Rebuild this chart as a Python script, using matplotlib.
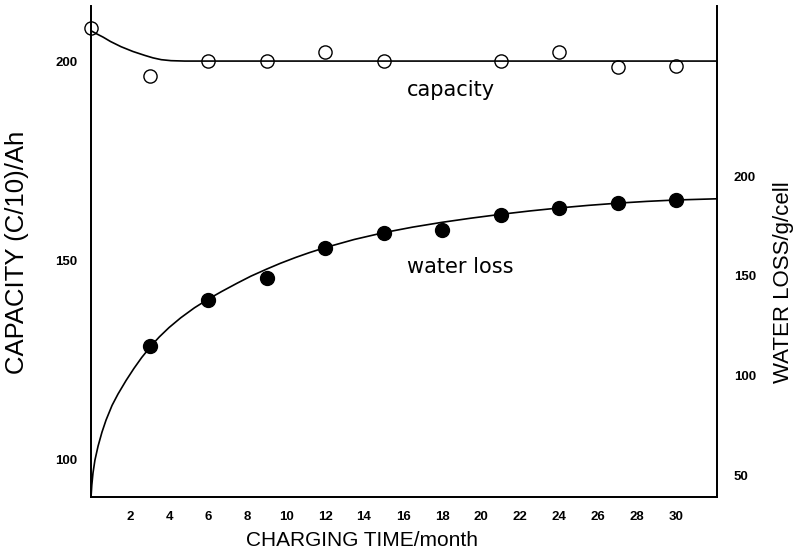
import matplotlib
matplotlib.use("Agg")
import matplotlib.pyplot as plt

# ---------------------
# DATA
# ---------------------
# capacity (C/10), open circles
cap_month = [0, 3, 6, 9, 12, 15, 21, 24, 27, 30]
cap_ah = [208.4, 196.3, 200.0, 200.0, 202.2, 200.0, 200.0, 202.3, 198.4, 198.7]
# hand drawn capacity curve
cap_curve_month = [0, 0.3, 0.62, 1.0, 1.54, 2.15, 2.77, 3.18, 3.6, 4.1, 4.8,
                   32.1]
cap_curve_ah = [207.6, 206.8, 206.0, 204.9, 203.6, 202.4, 201.4, 200.8,
                200.35, 200.1, 200.0, 200.0]

# water loss, filled circles
wl_month = [3, 6, 9, 12, 15, 18, 21, 24, 27, 30]
wl_g = [114.7, 137.8, 148.8, 163.9, 171.4, 172.9, 180.4, 183.9, 186.5, 188.0]
# hand drawn water loss curve
wl_curve_month = [0, 0.04, 0.1, 0.2, 0.36, 0.56, 0.77, 1.08, 1.38, 1.8, 2.2,
                  2.6, 3.08, 3.5, 4.0, 4.6, 5.3, 6.0, 6.7, 7.5, 8.2, 9.0,
                  9.7, 10.5, 11.2, 12.0, 13.5, 15.0, 16.5, 18.0, 19.5, 21.0,
                  22.5, 24.0, 25.5, 27.0, 28.5, 30.0, 32.1]
wl_curve_g = [39.0, 45.0, 51.0, 57.5, 64.5, 71.5, 77.6, 85.0, 90.6, 97.5,
              103.5, 109.0, 114.8, 119.3, 124.0, 128.9, 133.9, 138.2, 142.1,
              146.3, 149.8, 153.3, 156.2, 159.2, 161.6, 164.1, 168.2, 171.6,
              174.4, 176.8, 178.9, 180.8, 182.5, 184.0, 185.3, 186.4, 187.3,
              188.0, 188.6]

x_ticks = [2, 4, 6, 8, 10, 12, 14, 16, 18, 20, 22, 24, 26, 28, 30]
cap_ticks = [100, 150, 200]
wl_ticks = [50, 100, 150, 200]

# ---------------------
# FIGURE
# ---------------------
fig = plt.figure(figsize=(7.95, 5.58), dpi=100)
ax = fig.add_axes([0.1145, 0.1093, 0.7874, 0.8799])
ax2 = ax.twinx()

tick_font = dict(family="Liberation Sans", weight="bold", size=9.5)
label_font = "Liberation Sans"

ax.plot(cap_curve_month, cap_curve_ah, color="black", lw=1.2)
ax.plot(cap_month, cap_ah, "o", ms=9.5, mfc="none", mec="black", mew=1.0,
        clip_on=False)
ax2.plot(wl_curve_month, wl_curve_g, color="black", lw=1.2)
ax2.plot(wl_month, wl_g, "o", ms=10, color="black")

ax.set_xlim(0, 32.1)
ax.set_ylim(90.7, 213.8)
ax2.set_ylim(39, 285.3)

ax.set_xticks(x_ticks)
ax.set_xticklabels([str(t) for t in x_ticks], fontdict=tick_font)
ax.set_yticks(cap_ticks)
ax.set_yticklabels([str(t) for t in cap_ticks], fontdict=tick_font)
ax2.set_yticks(wl_ticks)
ax2.set_yticklabels([str(t) for t in wl_ticks], fontdict=tick_font)

ax.tick_params(axis="both", length=0, pad=10)
ax2.tick_params(axis="y", length=0, pad=12)

for a in (ax, ax2):
    a.spines["top"].set_visible(False)
    for s in a.spines.values():
        s.set_linewidth(1.3)

# curve labels
fig.text(451 / 795, 1 - 90 / 558, "capacity", family="DejaVu Sans",
         fontsize=15, ha="center", va="center")
fig.text(460 / 795, 1 - 267 / 558, "water loss", family="DejaVu Sans",
         fontsize=15, ha="center", va="center")

# axis titles
fig.text(362 / 795, 1 - 541 / 558, "CHARGING TIME/month", family=label_font,
         fontsize=15, ha="center", va="center")
fig.text(17 / 795, 1 - 252 / 558, "CAPACITY (C/10)/Ah", family=label_font,
         fontsize=18.5, rotation=90, ha="center", va="center")
fig.text(784 / 795, 1 - 282 / 558, "WATER LOSS/g/cell", family=label_font,
         fontsize=16, rotation=90, ha="center", va="center")

fig.savefig("out.png", dpi=100)
